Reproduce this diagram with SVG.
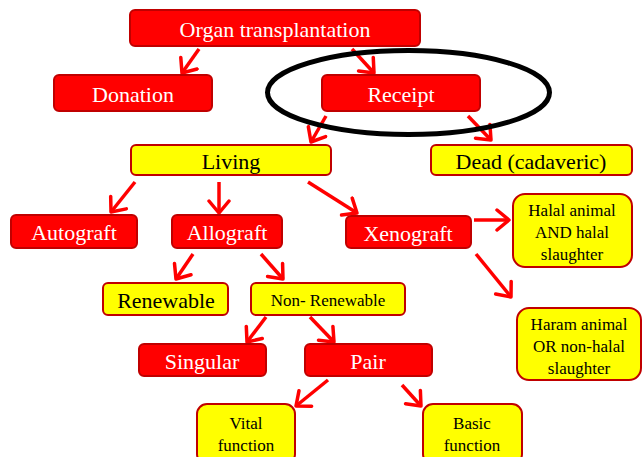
<svg xmlns="http://www.w3.org/2000/svg" width="644" height="457" viewBox="0 0 644 457">
<style>
.r{fill:#ff0000;stroke:#c00000;stroke-width:2}
.y{fill:#ffff00;stroke:#c00000;stroke-width:2}
.tw{font-family:"Liberation Serif",serif;fill:#fff;text-anchor:middle;dominant-baseline:central;font-size:22px}
.tb{font-family:"Liberation Serif",serif;fill:#000;text-anchor:middle;dominant-baseline:central;font-size:22px}
.ts{font-family:"Liberation Serif",serif;fill:#000;text-anchor:middle;dominant-baseline:central;font-size:17px}
.c line{stroke:#ff0000;stroke-width:3.5;marker-end:url(#a)}
</style>
<defs>
<marker id="a" markerUnits="userSpaceOnUse" markerWidth="24" markerHeight="24" refX="14" refY="12" orient="auto" viewBox="0 0 24 24">
<polyline points="2,2 14,12 2,22" fill="none" stroke="#ff0000" stroke-width="3.5" stroke-linecap="round" stroke-linejoin="round"/>
</marker>
</defs>
<rect width="644" height="457" fill="#fff"/>
<g class="c">
<line x1="199" y1="49" x2="182" y2="73"/>
<line x1="352" y1="49" x2="374" y2="73"/>
<line x1="326" y1="116" x2="311" y2="142"/>
<line x1="468" y1="116" x2="491" y2="140"/>
<line x1="135" y1="182" x2="111" y2="212"/>
<line x1="219" y1="182" x2="219" y2="213"/>
<line x1="308" y1="182" x2="357" y2="213"/>
<line x1="474" y1="220" x2="509" y2="220"/>
<line x1="476" y1="254" x2="511" y2="297"/>
<line x1="193" y1="254" x2="176" y2="279"/>
<line x1="261" y1="254" x2="283" y2="279"/>
<line x1="266" y1="317" x2="247" y2="342"/>
<line x1="310" y1="317" x2="334" y2="342"/>
<line x1="328" y1="380" x2="296" y2="406"/>
<line x1="402" y1="385" x2="421" y2="406"/>
</g>
<g id="organ"><rect class="r" x="130" y="10" width="290" height="36" rx="5"/><text class="tw" x="275" y="29" font-size="24">Organ transplantation</text></g>
<g id="donation"><rect class="r" x="54" y="75" width="158" height="36" rx="5"/><text class="tw" x="133" y="94">Donation</text></g>
<g id="receipt"><rect class="r" x="322" y="75" width="158" height="36" rx="5"/><text class="tw" x="401" y="94">Receipt</text></g>
<g id="living"><rect class="y" x="131" y="145" width="200" height="30" rx="5"/><text class="tb" x="231" y="161">Living</text></g>
<g id="dead"><rect class="y" x="431" y="145" width="201" height="30" rx="5"/><text class="tb" x="531" y="161">Dead (cadaveric)</text></g>
<g id="autograft"><rect class="r" x="11" y="215" width="126" height="33" rx="5"/><text class="tw" x="74" y="232">Autograft</text></g>
<g id="allograft"><rect class="r" x="172" y="215" width="110" height="33" rx="5"/><text class="tw" x="227" y="232">Allograft</text></g>
<g id="xenograft"><rect class="r" x="346" y="216" width="125" height="32" rx="5"/><text class="tw" x="408" y="233">Xenograft</text></g>
<g id="halal"><rect class="y" x="513" y="194" width="119" height="73" rx="12"/><text class="ts" x="572" y="210">Halal animal</text><text class="ts" x="572" y="232">AND  halal</text><text class="ts" x="572" y="254">slaughter</text></g>
<g id="haram"><rect class="y" x="517" y="308" width="124" height="72" rx="12"/><text class="ts" x="579" y="324">Haram animal</text><text class="ts" x="579" y="346">OR non-halal</text><text class="ts" x="579" y="368">slaughter</text></g>
<g id="renewable"><rect class="y" x="103" y="283" width="125" height="32" rx="5"/><text class="tb" x="166" y="300">Renewable</text></g>
<g id="nonrenewable"><rect class="y" x="251" y="283" width="154" height="32" rx="5"/><text class="ts" x="328" y="300">Non- Renewable</text></g>
<g id="singular"><rect class="r" x="139" y="344" width="127" height="32" rx="5"/><text class="tw" x="202" y="361">Singular</text></g>
<g id="pair"><rect class="r" x="305" y="344" width="127" height="32" rx="5"/><text class="tw" x="368" y="361">Pair</text></g>
<g id="vital"><rect class="y" x="197" y="404" width="98" height="60" rx="10"/><text class="ts" x="246" y="423">Vital</text><text class="ts" x="246" y="445">function</text></g>
<g id="basic"><rect class="y" x="423" y="404" width="99" height="60" rx="10"/><text class="ts" x="472" y="423">Basic</text><text class="ts" x="472" y="445">function</text></g>
<ellipse cx="408.5" cy="92.5" rx="141" ry="42" fill="none" stroke="#000" stroke-width="5"/>
</svg>
